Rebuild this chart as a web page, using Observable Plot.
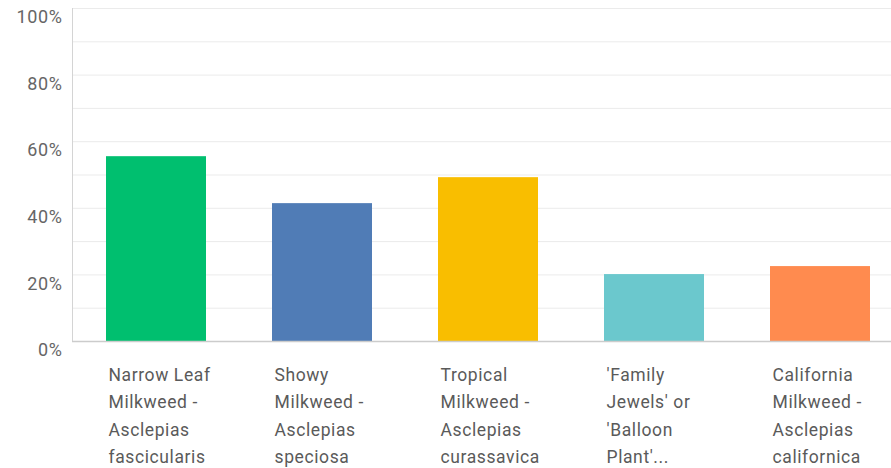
<!DOCTYPE html>
<html>
<head>
<meta charset="utf-8">
<script src="https://cdn.jsdelivr.net/npm/d3@7"></script>
<script src="https://cdn.jsdelivr.net/npm/@observablehq/plot@0.6"></script>
<style>
  html, body { margin: 0; padding: 0; background: #fff; }
  #chart svg { display: block; }
</style>
</head>
<body>
<div id="chart"></div>
<script>
const categories = [
  "Narrow Leaf Milkweed - Asclepias fascicularis",
  "Showy Milkweed - Asclepias speciosa",
  "Tropical Milkweed - Asclepias curassavica",
  "'Family Jewels' or 'Balloon Plant'...",
  "California Milkweed - Asclepias californica"
];
const tickLabels = [
  "Narrow Leaf\nMilkweed -\nAsclepias\nfascicularis",
  "Showy\nMilkweed -\nAsclepias\nspeciosa",
  "Tropical\nMilkweed -\nAsclepias\ncurassavica",
  "'Family\nJewels' or\n'Balloon\nPlant'...",
  "California\nMilkweed -\nAsclepias\ncalifornica"
];
const values = [0.555, 0.414, 0.492, 0.201, 0.225];
const colors = ["#00BF6F", "#507CB6", "#F9BE00", "#6BC8CD", "#FF8B4F"];
const yTicks = [0, 0.2, 0.4, 0.6, 0.8, 1.0];
const yGrid = [0.1, 0.2, 0.3, 0.4, 0.5, 0.6, 0.7, 0.8, 0.9, 1.0];

const data = categories.map((c, i) => ({category: c, value: values[i]}));
const labelOf = new Map(categories.map((c, i) => [c, tickLabels[i]]));

const chart = Plot.plot({
  width: 891,
  height: 468,
  marginTop: 8,
  marginBottom: 127,
  marginLeft: 72,
  marginRight: 0,
  style: {fontFamily: "Roboto, sans-serif", background: "#fff"},
  x: {domain: categories, range: [73, 903], paddingInner: 0.4, paddingOuter: 0.2, label: null},
  y: {domain: [0, 1], label: null},
  color: {domain: categories, range: colors},
  marks: [
    Plot.ruleY(yGrid, {stroke: "#ebebeb", strokeWidth: 1}),
    Plot.frame({anchor: "left", stroke: "#d4d4d4"}),
    Plot.barY(data, {x: "category", y: "value", fill: "category"}),
    Plot.ruleY([0], {stroke: "#cccccc", strokeWidth: 1.5}),
    Plot.axisY({
      ticks: yTicks,
      tickFormat: d => Math.round(d * 100) + "%",
      tickSize: 0,
      tickPadding: 10,
      dy: 9,
      fontSize: 18,
      fill: "#666",
      label: null
    }),
    Plot.axisX({
      tickFormat: d => labelOf.get(d),
      tickSize: 0,
      textAnchor: "start",
      lineAnchor: "top",
      lineHeight: 1.57,
      dx: -48,
      dy: 11,
      fontSize: 17.5,
      fill: "#5a5a5a",
      label: null
    })
  ]
});

document.getElementById("chart").appendChild(chart);
chart.querySelectorAll("g[aria-label='x-axis tick label'] text, g[aria-label='y-axis tick label'] text")
  .forEach(t => t.setAttribute("letter-spacing", "0.6"));
</script>
</body>
</html>
